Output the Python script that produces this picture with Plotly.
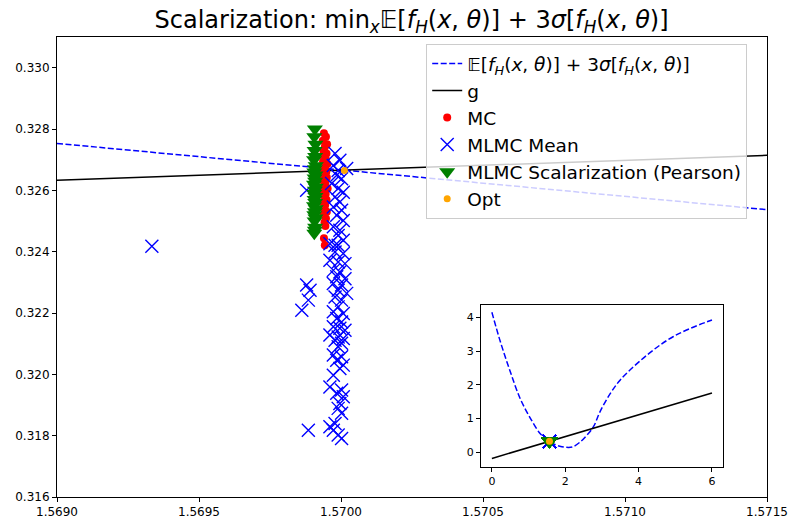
import plotly.graph_objects as go

# ---------------- data ----------------
# main dashed objective (E + 3 sigma), nearly linear in this window
obj_x = [1.5690, 1.5715]
obj_y = [0.32753, 0.32537]
# constraint g
g_x = [1.5690, 1.5715]
g_y = [0.32633, 0.32714]

mc_x = [1.569940, 1.569947, 1.569936, 1.569951, 1.569943, 1.569938, 1.569949, 1.569941,
        1.569946, 1.569937, 1.569952, 1.569944, 1.569939, 1.569948, 1.569942, 1.569950,
        1.569936, 1.569945, 1.569940, 1.569953, 1.569938, 1.569946, 1.569943, 1.569949,
        1.569937, 1.569944, 1.569941, 1.569950, 1.569939, 1.569947, 1.569942, 1.569945,
        1.569940, 1.569943]
mc_y = [0.32786, 0.32775, 0.32762, 0.32750, 0.32741, 0.32730, 0.32720, 0.32712,
        0.32703, 0.32695, 0.32686, 0.32676, 0.32668, 0.32660, 0.32650, 0.32642,
        0.32633, 0.32624, 0.32615, 0.32606, 0.32597, 0.32588, 0.32578, 0.32569,
        0.32560, 0.32551, 0.32540, 0.32530, 0.32520, 0.32508, 0.32496, 0.32484,
        0.32444, 0.32421]

mlmc_x = [1.569979, 1.569996, 1.569973, 1.569990, 1.570020, 1.569985, 1.570002, 1.569967,
          1.569990, 1.570008, 1.569979, 1.569996, 1.569973, 1.570002, 1.569985, 1.570008,
          1.569973, 1.569996, 1.569990, 1.570008, 1.569979, 1.569879,
          1.569961, 1.569990, 1.569979, 1.570008, 1.569961, 1.569990, 1.570014, 1.569973,
          1.569996, 1.569985, 1.570014, 1.569973, 1.570002, 1.569990, 1.570020, 1.569979,
          1.570002, 1.569990, 1.569973, 1.570008, 1.569985, 1.570002, 1.569973, 1.569996,
          1.570014, 1.569961, 1.569990, 1.570008, 1.569979, 1.570002, 1.569990, 1.569973,
          1.570002, 1.569985, 1.570008, 1.569996, 1.569973, 1.569961, 1.570002, 1.569985,
          1.570008, 1.569996, 1.569990, 1.570002, 1.569979, 1.569961, 1.569973, 1.569990,
          1.570002,
          1.569885, 1.569879, 1.569891, 1.569885, 1.569862, 1.569334]
mlmc_y = [0.32720, 0.32698, 0.32681, 0.32665, 0.32671, 0.32649, 0.32638, 0.32622,
          0.32606, 0.32594, 0.32578, 0.32562, 0.32546, 0.32535, 0.32519, 0.32502,
          0.32481, 0.32470, 0.32453, 0.32437, 0.32421, 0.32600,
          0.32426, 0.32421, 0.32399, 0.32394, 0.32372, 0.32366, 0.32361, 0.32339,
          0.32334, 0.32318, 0.32312, 0.32296, 0.32291, 0.32274, 0.32264, 0.32252,
          0.32242, 0.32220, 0.32204, 0.32198, 0.32182, 0.32171, 0.32155, 0.32150,
          0.32144, 0.32128, 0.32122, 0.32117, 0.32111, 0.32101, 0.32090, 0.32063,
          0.32057, 0.32046, 0.32030, 0.32019, 0.31997, 0.31959, 0.31949, 0.31938,
          0.31927, 0.31905, 0.31889, 0.31873, 0.31840, 0.31829, 0.31818, 0.31802,
          0.31791,
          0.31818, 0.32291, 0.32274, 0.32242, 0.32209, 0.32418]

scal_x = [1.569908, 1.569906, 1.569910, 1.569907, 1.569909, 1.569905, 1.569911, 1.569908,
          1.569906, 1.569910, 1.569907, 1.569909, 1.569905, 1.569911, 1.569908, 1.569906,
          1.569910, 1.569907, 1.569909, 1.569905, 1.569911, 1.569908, 1.569906, 1.569910,
          1.569907, 1.569909, 1.569908, 1.569906]
scal_y = [0.32800, 0.32775, 0.32750, 0.32730, 0.32710, 0.32700, 0.32680, 0.32670,
          0.32660, 0.32650, 0.32640, 0.32630, 0.32620, 0.32610, 0.32600, 0.32590,
          0.32580, 0.32570, 0.32560, 0.32550, 0.32540, 0.32530, 0.32520, 0.32510,
          0.32500, 0.32480, 0.32470, 0.32460]

opt_x = [1.570012]
opt_y = [0.32665]

# inset: full objective curve and constraint
inset_obj_x = [0.0, 0.23, 0.5, 0.77, 1.05, 1.32, 1.5, 1.57, 1.7, 1.85, 2.0, 2.2, 2.4,
               2.59, 2.77, 2.95, 3.23, 3.5, 3.86, 4.23, 4.59, 4.95, 5.41, 6.0]
inset_obj_y = [4.16, 3.29, 2.40, 1.60, 1.01, 0.55, 0.38, 0.327, 0.24, 0.18, 0.15, 0.16, 0.30,
               0.51, 0.76, 1.21, 1.75, 2.15, 2.54, 2.89, 3.19, 3.44, 3.68, 3.93]
inset_g_x = [0.0, 6.0]
inset_g_y = [-0.182, 1.762]

main_xticks = [1.5690, 1.5695, 1.5700, 1.5705, 1.5710, 1.5715]
main_yticks = [0.316, 0.318, 0.320, 0.322, 0.324, 0.326, 0.328, 0.330]
inset_xticks = [0, 2, 4, 6]
inset_yticks = [0, 1, 2, 3, 4]

# ---------------- figure ----------------
FONT = "DejaVu Sans"
DASH = "6px,2.5px"
XMARK = dict(color="blue", size=13, symbol="x-thin-open", line=dict(color="#0000ff", width=1.4))
fig = go.Figure()

fig.add_trace(go.Scatter(x=obj_x, y=obj_y, mode="lines",
                         line=dict(color="blue", width=1.5, dash=DASH),
                         name="𝔼[<i>f</i><sub><i>H</i></sub>(<i>x</i>, <i>θ</i>)] + 3<i>σ</i>[<i>f</i><sub><i>H</i></sub>(<i>x</i>, <i>θ</i>)]"))
fig.add_trace(go.Scatter(x=g_x, y=g_y, mode="lines",
                         line=dict(color="black", width=1.5), name="g"))
fig.add_trace(go.Scatter(x=mc_x, y=mc_y, mode="markers",
                         marker=dict(color="red", size=8, symbol="circle"), name="MC"))
fig.add_trace(go.Scatter(x=mlmc_x, y=mlmc_y, mode="markers", marker=XMARK,
                         name="MLMC Mean"))
fig.add_trace(go.Scatter(x=scal_x, y=scal_y, mode="markers",
                         marker=dict(color="green", size=14, symbol="triangle-down"),
                         name="MLMC Scalarization (Pearson)"))
fig.add_trace(go.Scatter(x=opt_x, y=opt_y, mode="markers",
                         marker=dict(color="orange", size=7, symbol="circle"), name="Opt"))

# inset traces
fig.add_trace(go.Scatter(x=inset_obj_x, y=inset_obj_y, mode="lines", xaxis="x2", yaxis="y2",
                         line=dict(color="blue", width=1.5, dash=DASH, shape="spline"),
                         showlegend=False))
fig.add_trace(go.Scatter(x=inset_g_x, y=inset_g_y, mode="lines", xaxis="x2", yaxis="y2",
                         line=dict(color="black", width=1.5), showlegend=False))
fig.add_trace(go.Scatter(x=mc_x, y=mc_y, mode="markers", xaxis="x2", yaxis="y2",
                         marker=dict(color="red", size=8), showlegend=False))
fig.add_trace(go.Scatter(x=mlmc_x, y=mlmc_y, mode="markers", xaxis="x2", yaxis="y2",
                         marker=XMARK, showlegend=False))
fig.add_trace(go.Scatter(x=scal_x, y=scal_y, mode="markers", xaxis="x2", yaxis="y2",
                         marker=dict(color="green", size=14, symbol="triangle-down"),
                         showlegend=False))
fig.add_trace(go.Scatter(x=opt_x, y=opt_y, mode="markers", xaxis="x2", yaxis="y2",
                         marker=dict(color="orange", size=7), showlegend=False))


def axis_style(fs):
    return dict(showgrid=False, zeroline=False, showline=True, linecolor="black",
                linewidth=1, mirror=True, ticks="outside", ticklen=4, tickwidth=1,
                tickcolor="black", automargin=False,
                tickfont=dict(family=FONT, size=fs, color="black"))


fig.update_layout(
    width=790, height=518,
    margin=dict(l=57, r=23, t=37, b=21, autoexpand=False),
    paper_bgcolor="white", plot_bgcolor="white",
    font=dict(family=FONT, color="black"),
    title=dict(text="Scalarization: min<sub><i>x</i></sub>𝔼[<i>f</i><sub><i>H</i></sub>(<i>x</i>, <i>θ</i>)] + 3<i>σ</i>[<i>f</i><sub><i>H</i></sub>(<i>x</i>, <i>θ</i>)]",
               x=0.521, xanchor="center", y=0.962, yanchor="middle",
               font=dict(family=FONT, size=24, color="black")),
    xaxis=dict(range=[1.5690, 1.5715], tickvals=main_xticks, tickformat=".4f",
               domain=[0, 1], **axis_style(12)),
    yaxis=dict(range=[0.316, 0.331], tickvals=main_yticks, tickformat=".3f",
               domain=[0, 1], **axis_style(12)),
    xaxis2=dict(range=[-0.3, 6.3], tickvals=inset_xticks, domain=[0.597, 0.938],
                anchor="y2", **axis_style(11)),
    yaxis2=dict(range=[-0.44, 4.37], tickvals=inset_yticks, domain=[0.065, 0.417],
                anchor="x2", **axis_style(11)),
    legend=dict(x=0.52, y=0.985, xanchor="left", yanchor="top",
                bgcolor="rgba(255,255,255,0.8)", bordercolor="#cccccc", borderwidth=1,
                font=dict(family=FONT, size=18.5, color="black"), tracegroupgap=0),
    showlegend=True,
)

fig.write_html("out.html", config={"displayModeBar": False},
               post_script="document.body.style.margin='0';document.body.style.padding='0';")
